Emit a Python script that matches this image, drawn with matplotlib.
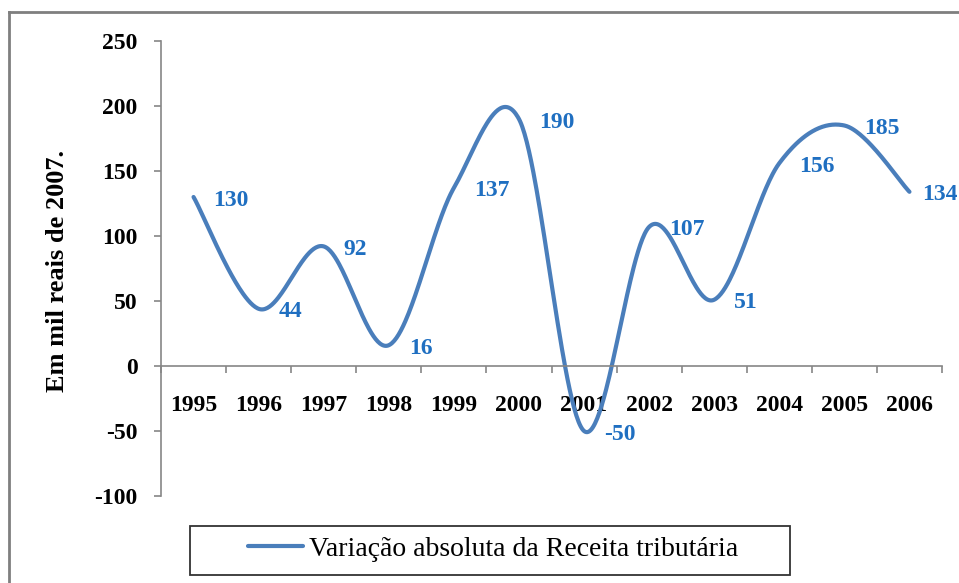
import matplotlib
matplotlib.use('Agg')
import matplotlib.pyplot as plt
from matplotlib.patches import Rectangle
from matplotlib.lines import Line2D
import numpy as np

years = ['1995', '1996', '1997', '1998', '1999', '2000',
         '2001', '2002', '2003', '2004', '2005', '2006']
values = [130, 44, 92, 16, 137, 190, -50, 107, 51, 156, 185, 134]
y_ticks = [-100, -50, 0, 50, 100, 150, 200, 250]
series_name = 'Variação absoluta da Receita tributária'
y_label = 'Em mil reais de 2007.'

plt.rcParams['font.family'] = ['Liberation Serif', 'DejaVu Serif']

W, H = 959, 583
fig = plt.figure(figsize=(W / 100, H / 100), dpi=100)
ax = fig.add_axes([161 / W, 1 - 496 / H, (942 - 161) / W, (496 - 41) / H])

# Excel-like smoothed line: cubic Bezier segments (Catmull-Rom control points)
n = len(values)
P = np.column_stack([np.arange(n, dtype=float), np.array(values, dtype=float)])
t = np.linspace(0, 1, 60)
xs, ys = [], []
for i in range(n - 1):
    p0 = P[max(i - 1, 0)]
    p1 = P[i]
    p2 = P[i + 1]
    p3 = P[min(i + 2, n - 1)]
    c1 = p1 + (p2 - p0) / 6.0
    c2 = p2 - (p3 - p1) / 6.0
    b = ((1 - t) ** 3)[:, None] * p1 + (3 * (1 - t) ** 2 * t)[:, None] * c1 \
        + (3 * (1 - t) * t ** 2)[:, None] * c2 + (t ** 3)[:, None] * p2
    xs.extend(b[:, 0])
    ys.extend(b[:, 1])

line_color = '#4A7EBB'
ax.plot(xs, ys, color=line_color, lw=3.0, solid_capstyle='round',
        solid_joinstyle='round', label=series_name)

label_color = '#1F6FC1'
for i, v in enumerate(values):
    dx = 20 if i < n - 1 else 13  # keep the last label inside the picture
    ax.annotate(str(v), (i, v), xytext=(dx, -3), textcoords='offset pixels',
                ha='left', va='center', color=label_color,
                fontsize=17, fontweight='bold', annotation_clip=False)

ax.set_xlim(-0.5, n - 0.5)
ax.set_ylim(-100, 250)

axis_gray = '#868686'
for s in ['top', 'right']:
    ax.spines[s].set_visible(False)
ax.spines['bottom'].set_position(('data', 0))
ax.spines['bottom'].set_color(axis_gray)
ax.spines['left'].set_color(axis_gray)
ax.spines['bottom'].set_linewidth(1.2)
ax.spines['left'].set_linewidth(1.2)

ax.set_yticks(y_ticks)
ax.set_yticklabels([str(v) for v in y_ticks])
ax.tick_params(axis='y', direction='out', length=5, width=1.2, color=axis_gray,
               pad=12, labelsize=17)
ax.set_xticks(np.arange(n))
ax.set_xticklabels(years)
ax.set_xticks(np.arange(n + 1) - 0.5, minor=True)
ax.tick_params(axis='x', which='major', length=0, pad=21, labelsize=17)
ax.tick_params(axis='x', which='minor', direction='out', length=5, width=1.2,
               color=axis_gray)
for lab in ax.get_xticklabels() + ax.get_yticklabels():
    lab.set_fontweight('bold')

fig.text(58 / W, 1 - 271 / H, y_label, rotation=90, ha='center', va='center',
         fontsize=19, fontweight='bold')

# Legend
leg = ax.legend(loc='center', bbox_to_anchor=(493 / W, 1 - 549 / H),
                bbox_transform=fig.transFigure, frameon=False,
                handlelength=1.98, handletextpad=0.22,
                prop={'family': 'Liberation Serif', 'size': 20})
fig.add_artist(Rectangle((190 / W, 1 - 575 / H), 600 / W, 49 / H,
                         transform=fig.transFigure, fill=False,
                         edgecolor='#333333', lw=1.3))

# Chart-area border (left and top visible)
border = '#7F7F7F'
fig.add_artist(Line2D([9 / W, 9 / W], [0, 1 - 12 / H], transform=fig.transFigure,
                      color=border, lw=2))
fig.add_artist(Line2D([9 / W, 1], [1 - 12 / H, 1 - 12 / H], transform=fig.transFigure,
                      color=border, lw=2))

fig.savefig('out.png', dpi=100)
